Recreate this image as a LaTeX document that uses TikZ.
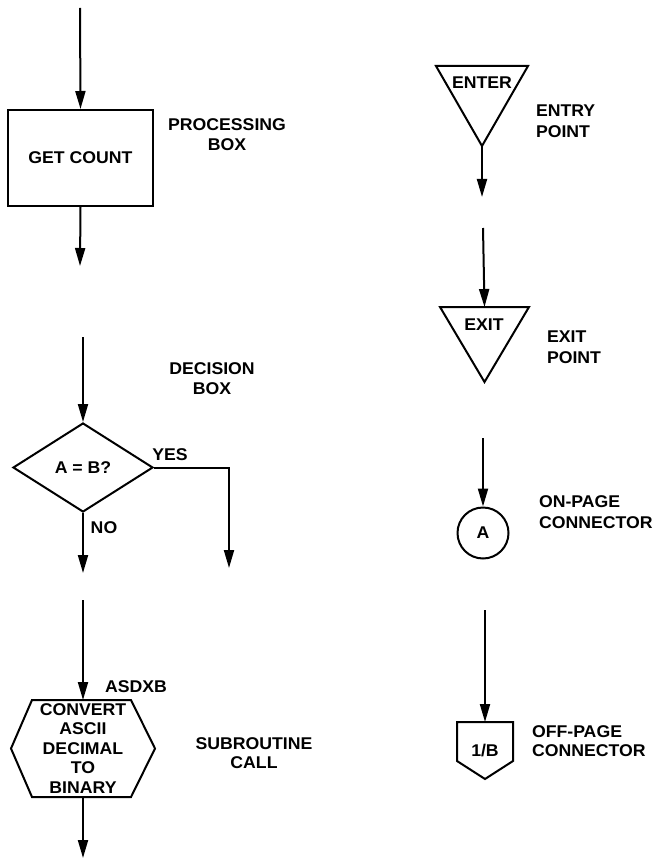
\documentclass[tikz,border=0pt]{standalone}
\usepackage{fontspec}
\setmainfont{Liberation Sans}[FakeStretch=1.04]
\usetikzlibrary{arrows.meta,shapes.geometric}
\begin{document}
\begin{tikzpicture}[x=1pt,y=-1pt,
  line width=2pt,
  every node/.style={font=\fontsize{17}{20.5}\selectfont\bfseries, inner sep=0pt},
  flow/.style={-{Triangle[length=18pt,width=10pt]}},
  procbox/.style={draw, rectangle, minimum width=145pt, minimum height=96pt},
  decbox/.style={draw, diamond, minimum width=140pt, minimum height=89pt},
  frame/.style={rectangle, draw=none},
  note/.style={align=center},
  lnote/.style={align=left, anchor=west}]
\useasboundingbox (0,0) rectangle (654,861);

% ---------- processing box ----------
\coordinate (p-in) at (80,8);
\node[procbox] (proc) at (80.5,158) {GET COUNT};
\coordinate (p-out) at (80,266);
\draw[flow] (p-in) -- (proc.north);
\draw[flow] (proc.south) -- (p-out);
\node[note] (proc-lbl) at (227,134.5) {PROCESSING\\BOX};

% ---------- decision box ----------
\coordinate (d-in) at (83,337);
\node[decbox] (dec) at (83,467.5) {A = B?};
\coordinate (d-no) at (83,573);
\coordinate (d-yes) at (229,568);
\draw[flow] (d-in) -- (dec.north);
\draw[flow] (dec.south) -- (d-no);
\draw[flow] (dec.east) -| (d-yes);
\node (yes) at (170,455) {YES};
\node (no) at (104,528) {NO};
\node[note] (dec-lbl) at (212,378.5) {DECISION\\BOX};

% ---------- subroutine call ----------
\coordinate (s-in) at (83,600);
\node[frame, minimum width=142pt, minimum height=95pt, align=center,
      font=\fontsize{17}{19.5}\selectfont\bfseries] (sub) at (83,748.5)
      {CONVERT\\ASCII\\DECIMAL\\TO\\BINARY};
\draw ([xshift=21pt]sub.north west) -- ([xshift=-24pt]sub.north east) -- (sub.east)
      -- ([xshift=-24pt]sub.south east) -- ([xshift=21pt]sub.south west) -- (sub.west) -- cycle;
\coordinate (s-out) at (83,858);
\draw[flow] (s-in) -- (sub.north);
\draw[flow] (sub.south) -- (s-out);
\node (asdxb) at (136,687) {ASDXB};
\node[note, font=\fontsize{17}{19.5}\selectfont\bfseries] (sub-lbl) at (254,753) {SUBROUTINE\\CALL};

% ---------- entry point ----------
\node[frame, minimum width=90pt, minimum height=78pt] (enter) at (482,106) {};
\draw (enter.north west) -- (enter.north east) -- (enter.south) -- cycle;
\node (enter-txt) at (482,83) {ENTER};
\coordinate (e-out) at (482,197);
\draw[flow] (enter.south) -- (e-out);
\node[lnote] (enter-lbl) at (535,121) {ENTRY\\POINT};

% ---------- exit point ----------
\coordinate (x-in) at (483,228);
\node[frame, minimum width=87pt, minimum height=73pt] (exit) at (484.5,344.5) {};
\draw (exit.north west) -- (exit.north east) -- (exit.south) -- cycle;
\node (exit-txt) at (484,325) {EXIT};
\draw[flow] (x-in) -- (exit.north);
\node[lnote] (exit-lbl) at (546,347) {EXIT\\POINT};

% ---------- on-page connector ----------
\coordinate (c-in) at (483,438);
\node[draw, circle, minimum size=51pt] (conn) at (483,533) {A};
\draw[flow] (c-in) -- (conn.north);
\node[lnote] (conn-lbl) at (538,512) {ON-PAGE\\CONNECTOR};

% ---------- off-page connector ----------
\coordinate (o-in) at (485,610);
\node[frame, minimum width=54pt, minimum height=55pt] (off) at (485,750.5) {1/B};
\draw (off.north west) -- (off.north east) -- ([yshift=18pt]off.south east)
      -- (off.south) -- ([yshift=18pt]off.south west) -- cycle;
\draw[flow] (o-in) -- (off.north);
\node[lnote, font=\fontsize{17}{18.5}\selectfont\bfseries] (off-lbl) at (531,741) {OFF-PAGE\\CONNECTOR};
\end{tikzpicture}
\end{document}
